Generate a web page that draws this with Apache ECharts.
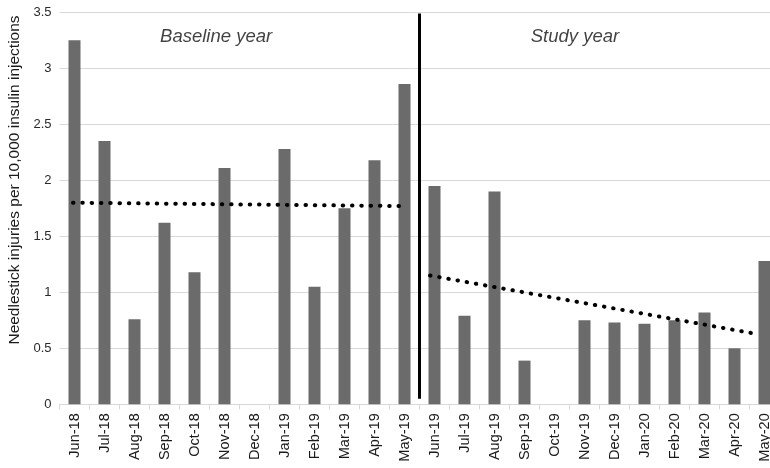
<!DOCTYPE html>
<html>
<head>
<meta charset="utf-8">
<script src="https://cdn.jsdelivr.net/npm/echarts@6/dist/echarts.min.js"></script>
<style>html,body{margin:0;padding:0;background:#fff}#c{width:770px;height:468px}</style>
</head>
<body>
<div id="c"></div>
<script>
var months = ["Jun-18","Jul-18","Aug-18","Sep-18","Oct-18","Nov-18","Dec-18","Jan-19","Feb-19","Mar-19","Apr-19","May-19",
              "Jun-19","Jul-19","Aug-19","Sep-19","Oct-19","Nov-19","Dec-19","Jan-20","Feb-20","Mar-20","Apr-20","May-20"];
var injuryRates = [3.25,2.35,0.76,1.62,1.18,2.11,0,2.28,1.05,1.75,2.18,2.86,
                   1.95,0.79,1.90,0.39,0,0.75,0.73,0.72,0.75,0.82,0.50,1.28];
// trendline endpoints [category position, value]
var baselineTrend = [[0.45,1.80],[11.45,1.77]];
var studyTrend = [[12.35,1.15],[23.2,0.63]];
// divider between baseline and study year [category boundary, value]
var divider = [[12,0.05],[12,3.49]];
var periodLabels = [[5.22,3.28,"Baseline year"],[17.18,3.28,"Study year"]];
var yTicks = {min:0, max:3.5, interval:0.5};

var chart = echarts.init(document.getElementById('c'), null, {renderer:'canvas'});
var dotted = {color:'#000', width:4, type:[0.5,8.8], cap:'round'};
chart.setOption({
  animation:false,
  backgroundColor:'#fff',
  textStyle:{fontFamily:'Liberation Sans, Arial, sans-serif'},
  grid:{left:59.5, right:-9.5, top:12.3, bottom:63.7, outerBoundsMode:'none', containLabel:false},
  xAxis:[{
    type:'category', data:months,
    axisLine:{lineStyle:{color:'#d9d9d9', width:1}},
    axisTick:{show:true, alignWithLabel:false, length:5, lineStyle:{color:'#d9d9d9'}},
    axisLabel:{rotate:90, color:'#1a1a1a', fontSize:14.5, margin:9, interval:0}
  },{
    type:'value', min:0, max:24, show:false
  }],
  yAxis:{
    type:'value', min:yTicks.min, max:yTicks.max, interval:yTicks.interval,
    axisLine:{show:false}, axisTick:{show:false},
    axisLabel:{color:'#2a2a2a', fontSize:13, margin:8},
    splitLine:{lineStyle:{color:'#d9d9d9', width:1}}
  },
  graphic:[{
    type:'text', x:15, y:180, rotation:Math.PI/2,
    style:{text:'Needlestick injuries per 10,000 insulin injections', fill:'#1a1a1a',
      font:'15.5px "Liberation Sans", Arial, sans-serif', align:'center', verticalAlign:'middle'}
  }],
  series:[{
    type:'bar', data:injuryRates, barWidth:12, itemStyle:{color:'#6b6b6b'}, xAxisIndex:0
  },{
    type:'line', xAxisIndex:1, data:baselineTrend, symbol:'none', lineStyle:dotted, z:5
  },{
    type:'line', xAxisIndex:1, data:studyTrend, symbol:'none', lineStyle:dotted, z:5
  },{
    type:'line', xAxisIndex:1, data:divider, symbol:'none', lineStyle:{color:'#000', width:3}, z:6
  },{
    type:'scatter', xAxisIndex:1, symbolSize:0,
    data:periodLabels.map(function(p){return {value:[p[0],p[1]], name:p[2]};}),
    label:{show:true, position:'inside', formatter:function(p){return p.name;},
      fontStyle:'italic', fontSize:18.5, color:'#111'}
  }]
});
</script>
</body>
</html>
